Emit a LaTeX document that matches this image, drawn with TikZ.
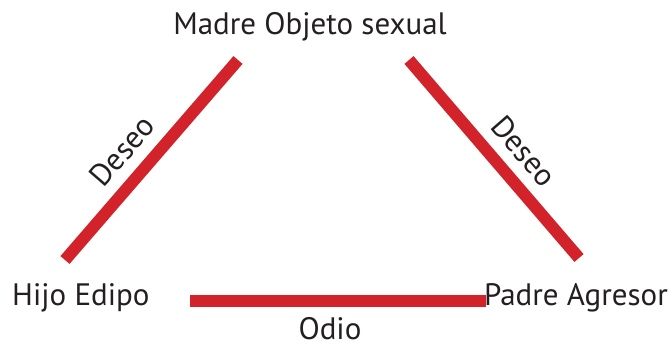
\documentclass[tikz,border=0pt]{standalone}
\usepackage{fontspec}
\setmainfont{PT Sans}
\definecolor{barred}{HTML}{D2232A}
\definecolor{inkgray}{HTML}{231F20}
\tikzset{
  bar/.style={draw=barred, line width=12pt, line cap=butt},
  lbl/.style={inner sep=0pt, text=inkgray, font=\fontsize{31}{33}\selectfont},
}
\begin{document}
\begin{tikzpicture}[x=1pt,y=-1pt]
\useasboundingbox (0,0) rectangle (672,345);
\node[lbl, anchor=base] (madre) at (310,35) {Madre Objeto sexual};
\node[lbl, anchor=base west] (hijo) at (12,305) {Hijo Edipo};
\node[lbl, anchor=base east] (padre) at (668,305) {Padre Agresor};
\node[lbl, anchor=base] (odio) at (330,339) {Odio};
\coordinate (l1) at (65,260);
\coordinate (l2) at (238,60);
\coordinate (r1) at (409,60);
\coordinate (r2) at (579,258);
\coordinate (b1) at (190,300.5);
\coordinate (b2) at (486,300.5);
\draw[bar] (l1) -- (l2);
\draw[bar] (r1) -- (r2);
\draw[bar] (b1) -- (b2);
\node[lbl, rotate=49] (deseoL) at (122,151) {Deseo};
\node[lbl, rotate=-49] (deseoR) at (524,151) {Deseo};
\end{tikzpicture}
\end{document}
